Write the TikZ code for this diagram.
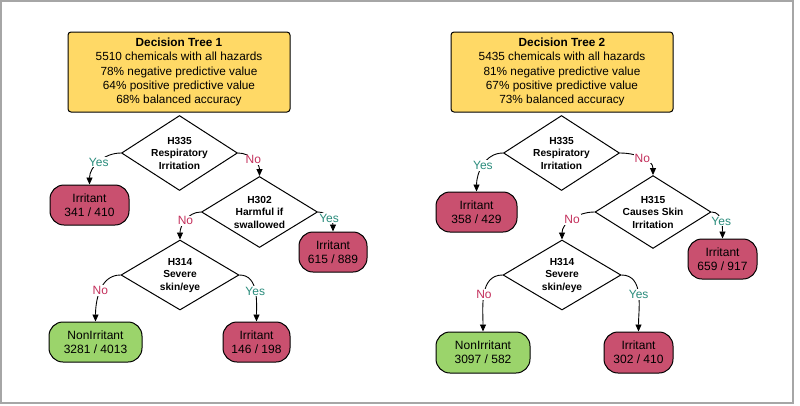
\documentclass[tikz,border=0pt]{standalone}
\usepackage{fontspec}
\setmainfont{Liberation Sans}
\usetikzlibrary{shapes.geometric,arrows.meta}

\definecolor{hdrfill}{HTML}{FFD966}
\definecolor{irrfill}{HTML}{C9506F}
\definecolor{nonfill}{HTML}{9BD46B}
\definecolor{yescol}{HTML}{2A8C7C}
\definecolor{nocol}{HTML}{C4305C}
\definecolor{framecol}{HTML}{A6A6A6}

\tikzset{
	header/.style={draw, fill=hdrfill, rounded corners=3pt, line width=1pt, inner sep=0pt,
		minimum width=222pt, minimum height=80pt, align=center, font=\fontsize{11.8}{14.2}\selectfont},
	test/.style={draw, diamond, fill=white, line width=1pt, inner xsep=-6pt, inner ysep=-4pt,
		minimum width=116pt, minimum height=71pt, align=center, font=\bfseries\fontsize{10.2}{12.5}\selectfont},
	irritant/.style={draw, fill=irrfill, rounded corners=14pt, line width=1pt, inner sep=0pt,
		minimum height=40pt, align=center, font=\fontsize{12}{14}\selectfont},
	nonirritant/.style={irritant, fill=nonfill},
	branch/.style={line width=0.9pt, -{Triangle[length=7pt,width=6pt]}},
	yeslabel/.style={fill=white, text=yescol, inner sep=1pt, font=\fontsize{12}{13}\selectfont},
	nolabel/.style={yeslabel, text=nocol},
}

\begin{document}
\begin{tikzpicture}[x=1pt, y=-1pt]
	\useasboundingbox (0,0) rectangle (800,405);
	\draw[framecol, line width=1.2pt] (1,1) rectangle (793,403);

	% tree 1
	\node[header] (h1) at (179, 72) {\textbf{Decision Tree 1}\\5510 chemicals with all hazards\\78\% negative predictive value\\64\% positive predictive value\\68\% balanced accuracy};
	\node[test, minimum height=75pt] (q11) at (179.5, 153) {H335\\Respiratory\\Irritation};
	\node[irritant, minimum width=79pt] (r11) at (89.5, 205) {Irritant\\341 / 410};
	\node[test] (q12) at (259.5, 212) {H302\\Harmful if\\swallowed};
	\node[irritant, minimum width=68pt] (r12) at (333, 252) {Irritant\\615 / 889};
	\node[test, minimum width=118pt, minimum height=70pt] (q13) at (180, 275) {H314\\Severe\\skin/eye};
	\node[nonirritant, minimum width=93pt] (n11) at (95.5, 342) {NonIrritant\\3281 / 4013};
	\node[irritant, minimum width=67pt] (r13) at (256.5, 342) {Irritant\\146 / 198};
		\draw[branch] (q11.west) to[out=180, in=90] node[yeslabel] {Yes} (r11.north);
		\draw[branch] (q11.east) to[out=0, in=90] node[nolabel] {No} (q12.north);
		\draw[branch] (q12.west) to[out=180, in=90] node[nolabel] {No} (q13.north);
		\draw[branch] (q12.east) to[out=0, in=90] node[yeslabel] {Yes} (r12.north);
		\draw[branch] (q13.west) to[out=180, in=90] node[nolabel] {No} (n11.north);
		\draw[branch] (q13.east) to[out=0, in=90] node[yeslabel] {Yes} (r13.north);

	% tree 2
	\node[header] (h2) at (562, 72) {\textbf{Decision Tree 2}\\5435 chemicals with all hazards\\81\% negative predictive value\\67\% positive predictive value\\73\% balanced accuracy};
	\node[test, minimum height=75pt] (q21) at (561.5, 153) {H335\\Respiratory\\Irritation};
	\node[irritant, minimum width=81pt] (r21) at (476.5, 212) {Irritant\\358 / 429};
	\node[test] (q22) at (653, 212) {H315\\Causes Skin\\Irritation};
	\node[irritant, minimum width=69pt] (r22) at (722.5, 259) {Irritant\\659 / 917};
	\node[test, minimum width=118pt, minimum height=70pt] (q23) at (562, 275) {H314\\Severe\\skin/eye};
	\node[nonirritant, minimum width=94pt, minimum height=41pt] (n21) at (483, 352.5) {NonIrritant\\3097 / 582};
	\node[irritant, minimum width=69pt, minimum height=41pt] (r23) at (638.5, 352.5) {Irritant\\302 / 410};
		\draw[branch] (q21.west) to[out=180, in=90] node[yeslabel] {Yes} (r21.north);
		\draw[branch] (q21.east) to[out=0, in=90] node[nolabel] {No} (q22.north);
		\draw[branch] (q22.west) to[out=180, in=90] node[nolabel] {No} (q23.north);
		\draw[branch] (q22.east) to[out=0, in=90] node[yeslabel] {Yes} (r22.north);
		\draw[branch] (q23.west) to[out=180, in=90] node[nolabel] {No} (n21.north);
		\draw[branch] (q23.east) to[out=0, in=90] node[yeslabel] {Yes} (r23.north);
\end{tikzpicture}
\end{document}
